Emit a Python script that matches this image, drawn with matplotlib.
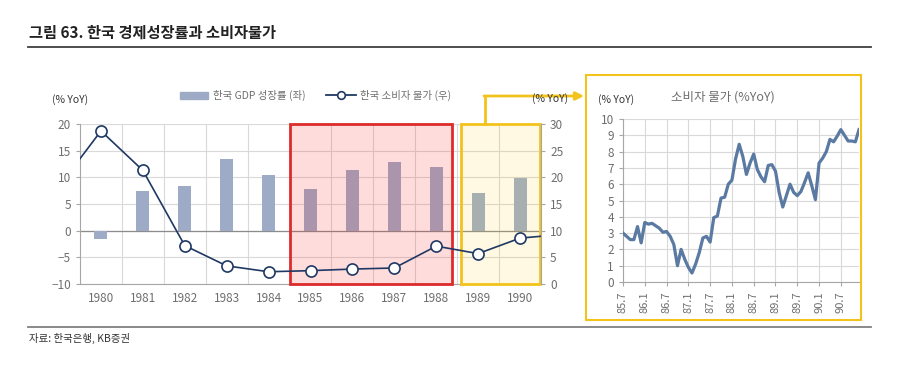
import matplotlib.pyplot as plt
from matplotlib.patches import Rectangle
from matplotlib.lines import Line2D
import matplotlib.transforms as mtransforms

plt.rcParams['font.family'] = ['Noto Sans CJK KR', 'DejaVu Sans']

# 연간 데이터 (1979, 1991은 선이 축 끝까지 이어지도록 포함)
years = [1980, 1981, 1982, 1983, 1984, 1985, 1986, 1987, 1988, 1989, 1990]
gdp = [-1.5, 7.4, 8.4, 13.5, 10.5, 7.8, 11.4, 12.8, 12.0, 7.0, 9.8]
cpi_years = [1979, 1980, 1981, 1982, 1983, 1984, 1985, 1986, 1987, 1988, 1989, 1990, 1991]
cpi = [18.3, 28.7, 21.3, 7.2, 3.4, 2.3, 2.5, 2.8, 3.0, 7.1, 5.7, 8.6, 9.3]

# 월간 소비자물가 (85.7 ~ 90.12)
cpi_monthly = [3.0, 2.8, 2.6, 2.6, 3.4, 2.4,
               3.65, 3.55, 3.6, 3.45, 3.3, 3.05,
               3.1, 2.8, 2.3, 1.0, 2.0, 1.4,
               0.9, 0.55, 1.1, 1.8, 2.7, 2.8,
               2.45, 3.95, 4.05, 5.15, 5.2, 6.0,
               6.25, 7.55, 8.45, 7.7, 6.6, 7.3,
               7.85, 6.9, 6.45, 6.15, 7.15, 7.2,
               6.8, 5.5, 4.6, 5.3, 6.0, 5.5,
               5.3, 5.55, 6.1, 6.7, 5.9, 5.05,
               7.3, 7.6, 8.0, 8.75, 8.6, 8.95,
               9.35, 9.0, 8.65, 8.65, 8.6, 9.35]
month_labels = ['85.7', '86.1', '86.7', '87.1', '87.7', '88.1',
                '88.7', '89.1', '89.7', '90.1', '90.7']

grey_txt = '#6E6E6E'
grid_c = '#D9D9D9'
navy = '#1F3864'
bar_c = '#9DABC6'
yellow = '#F2C31B'

fig = plt.figure(figsize=(9, 3.76), dpi=100)

def fx(px):
    return px / 900

def fy(py):
    return 1 - py / 376

# 제목과 구분선
fig.text(fx(29), fy(33), '그림 63. 한국 경제성장률과 소비자물가', fontsize=11,
         fontweight='bold', color='#222222', va='center')
fig.add_artist(Line2D([fx(28), fx(871)], [fy(47), fy(47)], color='#404040', lw=1.3))
fig.add_artist(Line2D([fx(28), fx(871)], [fy(327), fy(327)], color='#808080', lw=1.3))
fig.text(fx(29), fy(338), '자료: 한국은행, KB증권', fontsize=7.5, color='#333333', va='center')

# 왼쪽 차트
ax = fig.add_axes([fx(80), fy(284), fx(461), 160 / 376])
ax2 = ax.twinx()
xs = [y - 1980 for y in years]
cx = [y - 1980 for y in cpi_years]

ax.bar(xs, gdp, width=0.31, color=bar_c, zorder=2)
ax.set_xlim(-0.5, 10.5)
ax.set_ylim(-10, 20)
ax.set_yticks(range(-10, 21, 5))
ax.set_xticks(xs)
ax.set_xticklabels([str(y) for y in years])
for v in range(-10, 21, 5):
    ax.axhline(v, color=grid_c, lw=0.8, zorder=0)
for i in range(10):
    ax.axvline(i + 0.5, color=grid_c, lw=0.8, zorder=0)
ax.axhline(0, color='#8C8C8C', lw=0.9, zorder=1)
ax.tick_params(axis='y', colors=grey_txt, labelsize=8.5, length=3, color='#A6A6A6')
ax.tick_params(axis='x', colors=grey_txt, labelsize=8.5, length=0, pad=6)
for s in ['top', 'right']:
    ax.spines[s].set_visible(False)
ax.spines['left'].set_color('#A6A6A6')
ax.spines['bottom'].set_color('#A6A6A6')

# 강조 박스
trans = mtransforms.blended_transform_factory(ax.transData, ax.transAxes)
ax.add_patch(Rectangle((4.51, 0), 8.38 - 4.51, 1, transform=trans,
                       facecolor=(1, 0.1, 0.1, 0.15), edgecolor='#DD2A2A', lw=2, zorder=3, clip_on=False))
ax.add_patch(Rectangle((8.59, 0), 10.47 - 8.59, 1, transform=trans,
                       facecolor=(1, 0.8, 0.1, 0.12), edgecolor=yellow, lw=2, zorder=3, clip_on=False))

ax2.set_zorder(ax.get_zorder() + 1)
ax2.patch.set_visible(False)
ax2.plot(cx, cpi, color=navy, lw=1.2, marker='o', markersize=8,
         markerfacecolor='white', markeredgecolor=navy, markeredgewidth=1.2)
ax2.set_ylim(0, 30)
ax2.set_yticks(range(0, 31, 5))
ax2.set_xlim(-0.5, 10.5)
ax2.tick_params(axis='y', colors=grey_txt, labelsize=8.5, length=3, color='#A6A6A6')
for s in ['top', 'left', 'bottom']:
    ax2.spines[s].set_visible(False)
ax2.spines['right'].set_color('#A6A6A6')

fig.text(fx(52), fy(100), '(% YoY)', fontsize=7.5, color='#333333', va='center')
fig.text(fx(532), fy(99), '(% YoY)', fontsize=7.5, color='#333333', va='center')

# 범례
fig.add_artist(Rectangle((fx(180), fy(98.5)), fx(28), 7 / 376, color=bar_c))
fig.text(fx(213), fy(95), '한국 GDP 성장률 (좌)', fontsize=7.5, color=grey_txt, va='center')
fig.add_artist(Line2D([fx(326), fx(356)], [fy(95), fy(95)], color=navy, lw=1.3))
fig.add_artist(Line2D([fx(341)], [fy(95)], color=navy, marker='o', markersize=5.5,
                      markerfacecolor='white', markeredgewidth=1.2))
fig.text(fx(360), fy(95), '한국 소비자 물가 (우)', fontsize=7.5, color=grey_txt, va='center')

# 연결 화살표
fig.add_artist(Line2D([fx(485), fx(485)], [fy(124), fy(96)], color=yellow, lw=2))
plt.annotate('', xy=(fx(584), fy(96)), xytext=(fx(484), fy(96)), xycoords='figure fraction',
             arrowprops=dict(arrowstyle='-|>', color=yellow, lw=2, mutation_scale=12,
                             shrinkA=0, shrinkB=0))

# 오른쪽 박스와 차트
fig.add_artist(Rectangle((fx(586), fy(320)), fx(275), 245 / 376, fill=False,
                         edgecolor=yellow, lw=1.5))
bx = fig.add_axes([fx(623), fy(282), fx(236), 163 / 376])
mx = list(range(len(cpi_monthly)))
bx.plot(mx, cpi_monthly, color='#5A7AA3', lw=2.3, zorder=3)
bx.set_xlim(0, len(cpi_monthly) - 1)
bx.set_ylim(0, 10)
bx.set_yticks(range(0, 11))
bx.set_xticks(range(0, 61, 6))
bx.set_xticklabels(month_labels, rotation=90)
bx.grid(True, color=grid_c, lw=0.8, zorder=0)
bx.set_axisbelow(True)
bx.tick_params(axis='y', colors=grey_txt, labelsize=8.5, length=3, color='#A6A6A6')
bx.tick_params(axis='x', colors=grey_txt, labelsize=8, length=3, color='#A6A6A6')
for s in ['top', 'right']:
    bx.spines[s].set_visible(False)
bx.spines['left'].set_color('#A6A6A6')
bx.spines['bottom'].set_color('#A6A6A6')

fig.text(fx(598), fy(100), '(% YoY)', fontsize=7.5, color='#333333', va='center')
fig.text(fx(723), fy(97), '소비자 물가 (%YoY)', fontsize=9, color=grey_txt, va='center', ha='center')

fig.savefig('out.png', dpi=100)
